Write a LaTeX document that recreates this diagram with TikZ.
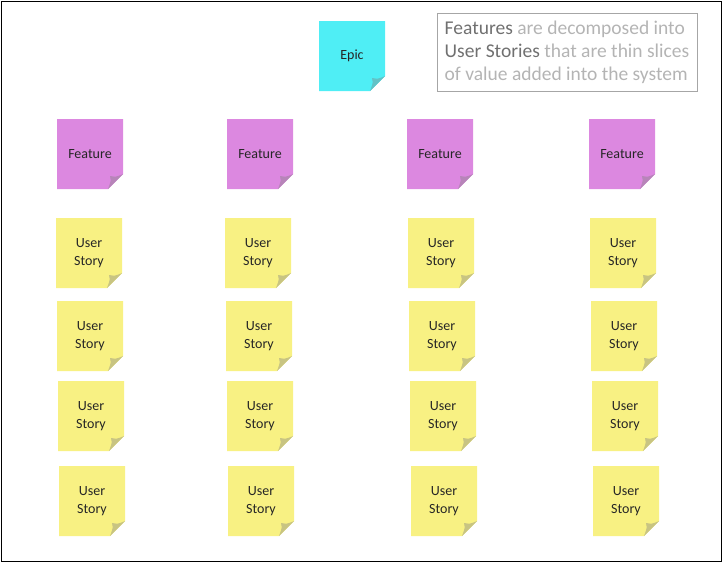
\documentclass[tikz,border=0pt]{standalone}
\usepackage{fontspec}
\setmainfont{Carlito}
\begin{document}
\definecolor{epicc}{HTML}{4FEEF5}
\definecolor{featc}{HTML}{DC88E0}
\definecolor{storyc}{HTML}{F8F183}
\definecolor{tdark}{HTML}{707070}
\definecolor{tlight}{HTML}{B4B4B4}
\newcommand\stickynote[5]{% name, x, y, color, text
  \begin{scope}[shift={(#2,#3)}]
    \fill[#4] (-33,-35) -- (33,-35) -- (33,20) -- (18,35) -- (-33,35) -- cycle;
    \fill[#4!75!black!80!white] (33,20) -- (18,35) .. controls (21,27) .. (20,22) .. controls (26,23) .. (33,20) -- cycle;
  \end{scope}
  \node[note text] (#1) at (#2,#3) {#5};
}
\begin{tikzpicture}[x=1pt,y=-1pt,
  note text/.style={align=center,font=\fontsize{14}{18}\selectfont,text=black!85}]
\useasboundingbox (0,0) rectangle (723,563);
\draw[black,line width=1pt] (1,1) rectangle (721,561);
\stickynote{epic}{352}{56}{epicc}{Epic}
\node[draw=black!35,line width=1pt,minimum width=260pt,minimum height=78pt,align=left,
  font=\fontsize{19.5}{23}\selectfont,text=tlight,inner sep=3pt] (info) at (567,52)
  {\textcolor{tdark}{Features} are decomposed into\\
   \textcolor{tdark}{User Stories} that are thin slices\\
   of value added into the system};
\foreach \i/\x in {1/90,2/260,3/440,4/622}{
  \stickynote{f\i}{\x}{154}{featc}{Feature}
}
\foreach \i/\x in {1/89,2/258,3/441,4/623}{
  \foreach \j/\y in {1/253,2/336,3/416,4/501}{
    \pgfmathsetmacro\xx{\x+\j-1}
    \stickynote{s\i\j}{\xx}{\y}{storyc}{User\\Story}
  }
}
\end{tikzpicture}
\end{document}
